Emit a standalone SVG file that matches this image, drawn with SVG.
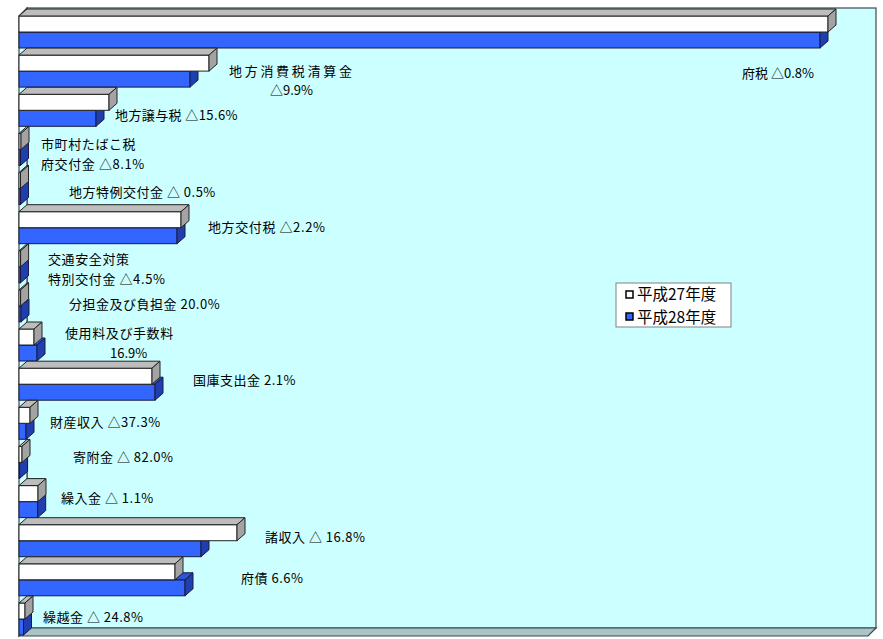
<svg xmlns="http://www.w3.org/2000/svg" width="883" height="639" viewBox="0 0 883 639">
<style>
.wall{fill:#CCFFFF;stroke:#3a4a4a;stroke-width:1.2}
.floor{fill:#A9C3C6;stroke:#3a4a4a;stroke-width:1.2}
.wf{fill:#FFFFFF;stroke:#222;stroke-width:1}
.wt{fill:#BDBDBD;stroke:#222;stroke-width:1}
.ws{fill:#A3A3A3;stroke:#222;stroke-width:1}
.bf{fill:#3366FF;stroke:#1a1a40;stroke-width:1}
.bt{fill:#2A55DD;stroke:#1a1a40;stroke-width:1}
.bs{fill:#1F3FB0;stroke:#1a1a40;stroke-width:1}
.lbl{font-family:"Noto Sans CJK JP","Noto Sans",sans-serif;font-size:13px;fill:#000}
.leg{font-family:"Noto Sans CJK JP","Noto Sans",sans-serif;font-size:15.5px;fill:#000}
</style>
<rect x="0" y="0" width="883" height="639" fill="#FFFFFF"/>
<g id="plot-area">
<rect class="wall" x="27" y="8" width="849" height="620"/>
<polygon class="wall" points="19,16 27,8 27,628 19,636"/>
<polygon class="floor" points="19,636 27,628 876,628 868,636"/>
</g>
<g id="connectors"></g>
<g id="cat-fuzei" transform="translate(0,16)">
<rect class="bf" x="19" y="16" width="801" height="16"/><polygon class="bt" points="19,16 820,16 828,9 27,9"/><polygon class="bs" points="820,16 828,9 828,25 820,32"/>
<rect class="wf" x="19" y="0" width="809" height="16"/><polygon class="wt" points="19,0 828,0 836,-7 27,-7"/><polygon class="ws" points="828,0 836,-7 836,9 828,16"/>
</g>
<g id="cat-shohizei" transform="translate(0,55.1)">
<rect class="bf" x="19" y="16" width="171" height="16"/><polygon class="bt" points="19,16 190,16 198,9 27,9"/><polygon class="bs" points="190,16 198,9 198,25 190,32"/>
<rect class="wf" x="19" y="0" width="190" height="16"/><polygon class="wt" points="19,0 209,0 217,-7 27,-7"/><polygon class="ws" points="209,0 217,-7 217,9 209,16"/>
</g>
<g id="cat-joyozei" transform="translate(0,94.3)">
<rect class="bf" x="19" y="16" width="77" height="16"/><polygon class="bt" points="19,16 96,16 104,9 27,9"/><polygon class="bs" points="96,16 104,9 104,25 96,32"/>
<rect class="wf" x="19" y="0" width="90" height="16"/><polygon class="wt" points="19,0 109,0 117,-7 27,-7"/><polygon class="ws" points="109,0 117,-7 117,9 109,16"/>
</g>
<g id="cat-tabako" transform="translate(0,133.4)">
<rect class="bf" x="19" y="16" width="1.5" height="16"/><polygon class="bt" points="19,16 20.5,16 28.5,9 27,9"/><polygon class="bs" points="20.5,16 28.5,9 28.5,25 20.5,32"/>
<rect class="wf" x="19" y="0" width="2" height="16"/><polygon class="wt" points="19,0 21,0 29,-7 27,-7"/><polygon class="ws" points="21,0 29,-7 29,9 21,16"/>
</g>
<g id="cat-tokurei" transform="translate(0,172.5)">
<rect class="bf" x="19" y="16" width="1.5" height="16"/><polygon class="bt" points="19,16 20.5,16 28.5,9 27,9"/><polygon class="bs" points="20.5,16 28.5,9 28.5,25 20.5,32"/>
<rect class="wf" x="19" y="0" width="1.5" height="16"/><polygon class="wt" points="19,0 20.5,0 28.5,-7 27,-7"/><polygon class="ws" points="20.5,0 28.5,-7 28.5,9 20.5,16"/>
</g>
<g id="cat-kofuzei" transform="translate(0,211.7)">
<rect class="bf" x="19" y="16" width="158" height="16"/><polygon class="bt" points="19,16 177,16 185,9 27,9"/><polygon class="bs" points="177,16 185,9 185,25 177,32"/>
<rect class="wf" x="19" y="0" width="162" height="16"/><polygon class="wt" points="19,0 181,0 189,-7 27,-7"/><polygon class="ws" points="181,0 189,-7 189,9 181,16"/>
</g>
<g id="cat-kotsu" transform="translate(0,250.8)">
<rect class="bf" x="19" y="16" width="1.5" height="16"/><polygon class="bt" points="19,16 20.5,16 28.5,9 27,9"/><polygon class="bs" points="20.5,16 28.5,9 28.5,25 20.5,32"/>
<rect class="wf" x="19" y="0" width="1.6" height="16"/><polygon class="wt" points="19,0 20.6,0 28.6,-7 27,-7"/><polygon class="ws" points="20.6,0 28.6,-7 28.6,9 20.6,16"/>
</g>
<g id="cat-buntan" transform="translate(0,289.9)">
<rect class="bf" x="19" y="16" width="2" height="16"/><polygon class="bt" points="19,16 21,16 29,9 27,9"/><polygon class="bs" points="21,16 29,9 29,25 21,32"/>
<rect class="wf" x="19" y="0" width="1.6" height="16"/><polygon class="wt" points="19,0 20.6,0 28.6,-7 27,-7"/><polygon class="ws" points="20.6,0 28.6,-7 28.6,9 20.6,16"/>
</g>
<g id="cat-shiyoryo" transform="translate(0,329)">
<rect class="bf" x="19" y="16" width="18" height="16"/><polygon class="bt" points="19,16 37,16 45,9 27,9"/><polygon class="bs" points="37,16 45,9 45,25 37,32"/>
<rect class="wf" x="19" y="0" width="15" height="16"/><polygon class="wt" points="19,0 34,0 42,-7 27,-7"/><polygon class="ws" points="34,0 42,-7 42,9 34,16"/>
</g>
<g id="cat-kokko" transform="translate(0,368.2)">
<rect class="bf" x="19" y="16" width="136" height="16"/><polygon class="bt" points="19,16 155,16 163,9 27,9"/><polygon class="bs" points="155,16 163,9 163,25 155,32"/>
<rect class="wf" x="19" y="0" width="133" height="16"/><polygon class="wt" points="19,0 152,0 160,-7 27,-7"/><polygon class="ws" points="152,0 160,-7 160,9 152,16"/>
</g>
<g id="cat-zaisan" transform="translate(0,407.3)">
<rect class="bf" x="19" y="16" width="7" height="16"/><polygon class="bt" points="19,16 26,16 34,9 27,9"/><polygon class="bs" points="26,16 34,9 34,25 26,32"/>
<rect class="wf" x="19" y="0" width="11" height="16"/><polygon class="wt" points="19,0 30,0 38,-7 27,-7"/><polygon class="ws" points="30,0 38,-7 38,9 30,16"/>
</g>
<g id="cat-kifu" transform="translate(0,446.4)">
<rect class="bf" x="19" y="16" width="0.6" height="16"/><polygon class="bt" points="19,16 19.6,16 27.6,9 27,9"/><polygon class="bs" points="19.6,16 27.6,9 27.6,25 19.6,32"/>
<rect class="wf" x="19" y="0" width="3" height="16"/><polygon class="wt" points="19,0 22,0 30,-7 27,-7"/><polygon class="ws" points="22,0 30,-7 30,9 22,16"/>
</g>
<g id="cat-kurire" transform="translate(0,485.6)">
<rect class="bf" x="19" y="16" width="18.7" height="16"/><polygon class="bt" points="19,16 37.7,16 45.7,9 27,9"/><polygon class="bs" points="37.7,16 45.7,9 45.7,25 37.7,32"/>
<rect class="wf" x="19" y="0" width="19" height="16"/><polygon class="wt" points="19,0 38,0 46,-7 27,-7"/><polygon class="ws" points="38,0 46,-7 46,9 38,16"/>
</g>
<g id="cat-shoshu" transform="translate(0,524.7)">
<rect class="bf" x="19" y="16" width="182" height="16"/><polygon class="bt" points="19,16 201,16 209,9 27,9"/><polygon class="bs" points="201,16 209,9 209,25 201,32"/>
<rect class="wf" x="19" y="0" width="218" height="16"/><polygon class="wt" points="19,0 237,0 245,-7 27,-7"/><polygon class="ws" points="237,0 245,-7 245,9 237,16"/>
</g>
<g id="cat-fusai" transform="translate(0,563.8)">
<rect class="bf" x="19" y="16" width="166" height="16"/><polygon class="bt" points="19,16 185,16 193,9 27,9"/><polygon class="bs" points="185,16 193,9 193,25 185,32"/>
<rect class="wf" x="19" y="0" width="156" height="16"/><polygon class="wt" points="19,0 175,0 183,-7 27,-7"/><polygon class="ws" points="175,0 183,-7 183,9 175,16"/>
</g>
<g id="cat-kurikoshi" transform="translate(0,603)">
<rect class="bf" x="19" y="16" width="4.5" height="16"/><polygon class="bt" points="19,16 23.5,16 31.5,9 27,9"/><polygon class="bs" points="23.5,16 31.5,9 31.5,25 23.5,32"/>
<rect class="wf" x="19" y="0" width="6" height="16"/><polygon class="wt" points="19,0 25,0 33,-7 27,-7"/><polygon class="ws" points="25,0 33,-7 33,9 25,16"/>
</g>
<g id="labels">
<text class="lbl" x="742" y="78">府税 △0.8%</text>
<text class="lbl" x="229" y="76" letter-spacing="2.7">地方消費税清算金</text>
<text class="lbl" x="270" y="95">△9.9%</text>
<text class="lbl" x="115" y="120" letter-spacing="0.4">地方譲与税 △15.6%</text>
<text class="lbl" x="41" y="149" letter-spacing="0.6">市町村たばこ税</text>
<text class="lbl" x="41" y="169" letter-spacing="0.6">府交付金 △8.1%</text>
<text class="lbl" x="69" y="197" letter-spacing="0.5">地方特例交付金 △ 0.5%</text>
<text class="lbl" x="208" y="232" letter-spacing="0.6">地方交付税 △2.2%</text>
<text class="lbl" x="48" y="264" letter-spacing="0.6">交通安全対策</text>
<text class="lbl" x="48" y="284" letter-spacing="0.6">特別交付金 △4.5%</text>
<text class="lbl" x="69" y="309" letter-spacing="0.5">分担金及び負担金 20.0%</text>
<text class="lbl" x="65" y="338" letter-spacing="0.6">使用料及び手数料</text>
<text class="lbl" x="110" y="358">16.9%</text>
<text class="lbl" x="193" y="385" letter-spacing="0.5">国庫支出金 2.1%</text>
<text class="lbl" x="50" y="427" letter-spacing="0.5">財産収入 △37.3%</text>
<text class="lbl" x="73" y="462" letter-spacing="0.5">寄附金 △ 82.0%</text>
<text class="lbl" x="61" y="503" letter-spacing="0.5">繰入金 △ 1.1%</text>
<text class="lbl" x="265" y="542" letter-spacing="0.5">諸収入 △ 16.8%</text>
<text class="lbl" x="241" y="583" letter-spacing="0.5">府債 6.6%</text>
<text class="lbl" x="43" y="622" letter-spacing="0.5">繰越金 △ 24.8%</text>
</g>
<g id="legend">
<rect x="616" y="283" width="115" height="44" fill="#FFFFFF" stroke="#808080" stroke-width="1"/>
<rect x="626" y="291" width="7" height="7" fill="#FFFFFF" stroke="#000" stroke-width="1.5"/>
<text class="leg" x="637" y="300">平成27年度</text>
<rect x="626" y="313" width="7" height="7" fill="#3366FF" stroke="#000" stroke-width="1.5"/>
<text class="leg" x="637" y="323">平成28年度</text>
</g>
</svg>
